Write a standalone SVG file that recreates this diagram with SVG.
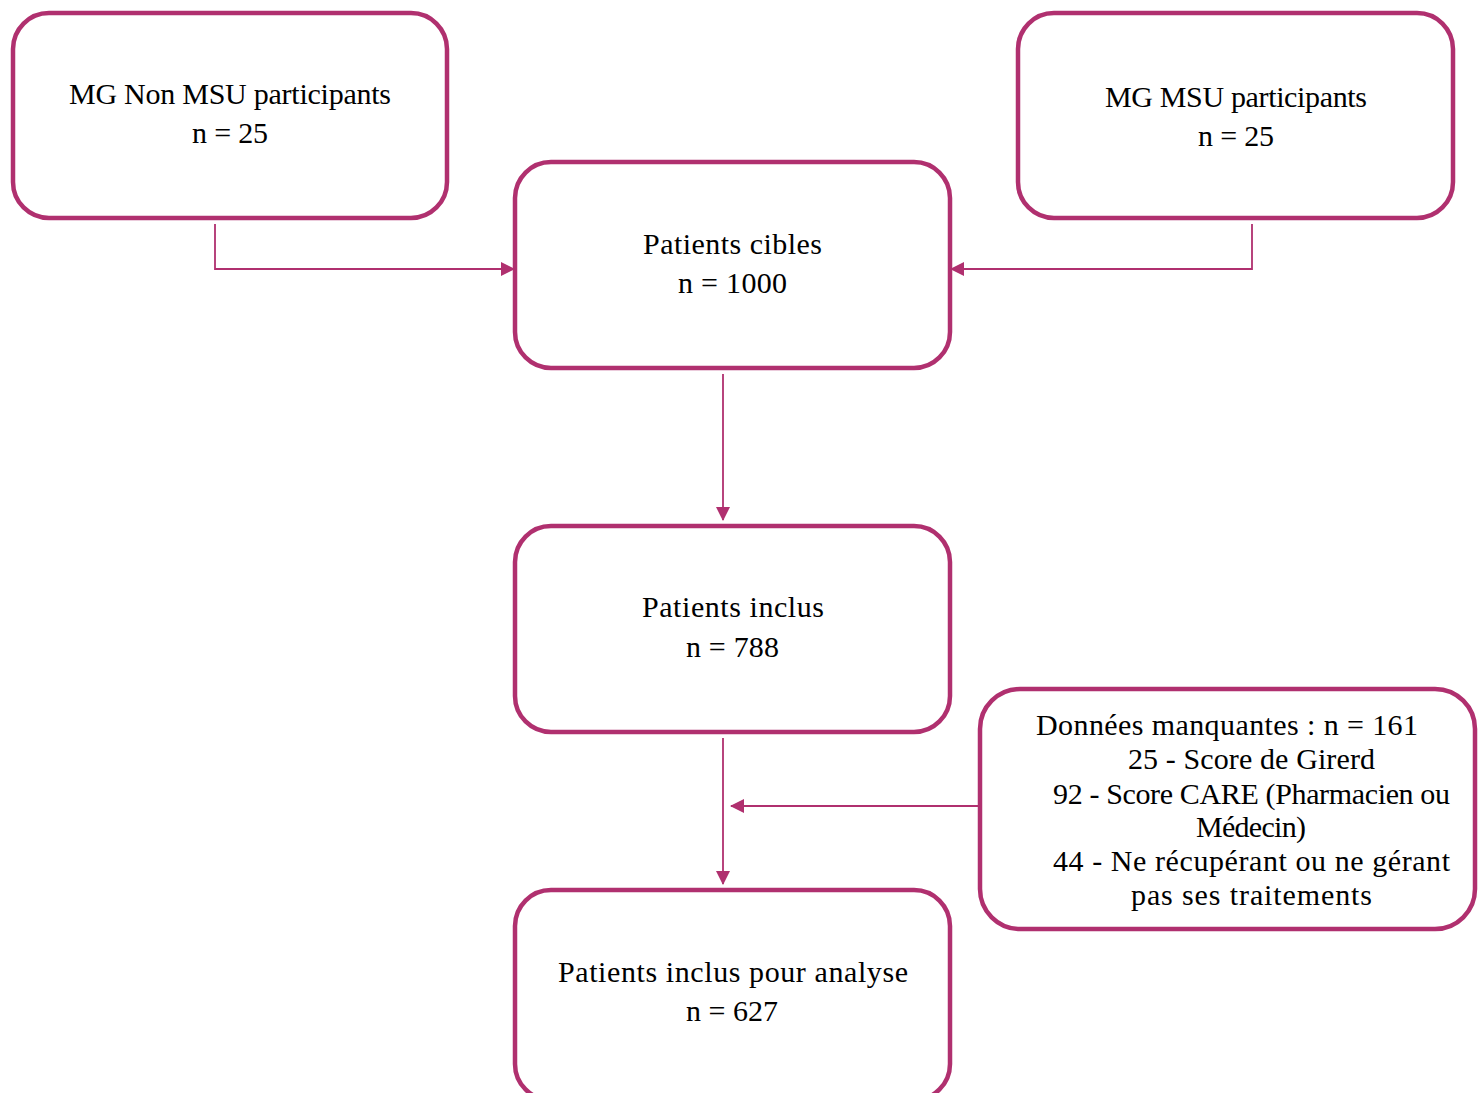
<svg xmlns="http://www.w3.org/2000/svg" width="1480" height="1093" viewBox="0 0 1480 1093">
<style>
.box{fill:#fff;stroke:#B0306F;stroke-width:4.5}
.t{font-family:"Liberation Serif","Times New Roman",serif;font-size:30px;fill:#000;text-anchor:middle}
.c{fill:none;stroke:#B0306F;stroke-width:1.8}
</style>
<defs>
<marker id="ah" markerWidth="14" markerHeight="14" refX="13" refY="7" orient="auto" markerUnits="userSpaceOnUse">
<path d="M0,0 L14,7 L0,14 Z" fill="#B0306F"/>
</marker>
</defs>
<rect width="1480" height="1093" fill="#fff"/>
<g id="n1">
<rect class="box" x="13" y="13" width="434" height="205" rx="36"/>
<text class="t" x="230" y="104" textLength="322" lengthAdjust="spacing">MG Non MSU participants</text>
<text class="t" x="230" y="143" textLength="76" lengthAdjust="spacing">n = 25</text>
</g>
<g id="n2">
<rect class="box" x="1018" y="13" width="435" height="205" rx="36"/>
<text class="t" x="1236" y="107" textLength="262" lengthAdjust="spacing">MG MSU participants</text>
<text class="t" x="1236" y="146" textLength="76" lengthAdjust="spacing">n = 25</text>
</g>
<g id="n3">
<rect class="box" x="515" y="162" width="435" height="206" rx="36"/>
<text class="t" x="732.5" y="254" textLength="179" lengthAdjust="spacing">Patients cibles</text>
<text class="t" x="732.5" y="293" textLength="109" lengthAdjust="spacing">n = 1000</text>
</g>
<g id="n4">
<rect class="box" x="515" y="526" width="435" height="206" rx="36"/>
<text class="t" x="733" y="617" textLength="182" lengthAdjust="spacing">Patients inclus</text>
<text class="t" x="732.5" y="657" textLength="93" lengthAdjust="spacing">n = 788</text>
</g>
<g id="n5">
<rect class="box" x="515" y="890" width="435" height="210" rx="36"/>
<text class="t" x="733" y="982" textLength="350" lengthAdjust="spacing">Patients inclus pour analyse</text>
<text class="t" x="732" y="1021" textLength="92" lengthAdjust="spacing">n = 627</text>
</g>
<g id="n6">
<rect class="box" x="980" y="689" width="495" height="240" rx="40"/>
<text class="t" x="1227" y="735" textLength="382" lengthAdjust="spacing">Données manquantes : n = 161</text>
<text class="t" x="1251.5" y="769" textLength="247" lengthAdjust="spacing">25 - Score de Girerd</text>
<text class="t" x="1251.5" y="804" textLength="397" lengthAdjust="spacing">92 - Score CARE (Pharmacien ou</text>
<text class="t" x="1251" y="837" textLength="110" lengthAdjust="spacing">Médecin)</text>
<text class="t" x="1251.5" y="871" textLength="397" lengthAdjust="spacing">44 - Ne récupérant ou ne gérant</text>
<text class="t" x="1251.5" y="905" textLength="241" lengthAdjust="spacing">pas ses traitements</text>
</g>
<g id="connectors">
<path class="c" d="M215,224 V269 H514" marker-end="url(#ah)"/>
<path class="c" d="M1252,224 V269 H951" marker-end="url(#ah)"/>
<path class="c" d="M723,374 V520" marker-end="url(#ah)"/>
<path class="c" d="M723,738 V884" marker-end="url(#ah)"/>
<path class="c" d="M978,806 H731" marker-end="url(#ah)"/>
</g>
</svg>
